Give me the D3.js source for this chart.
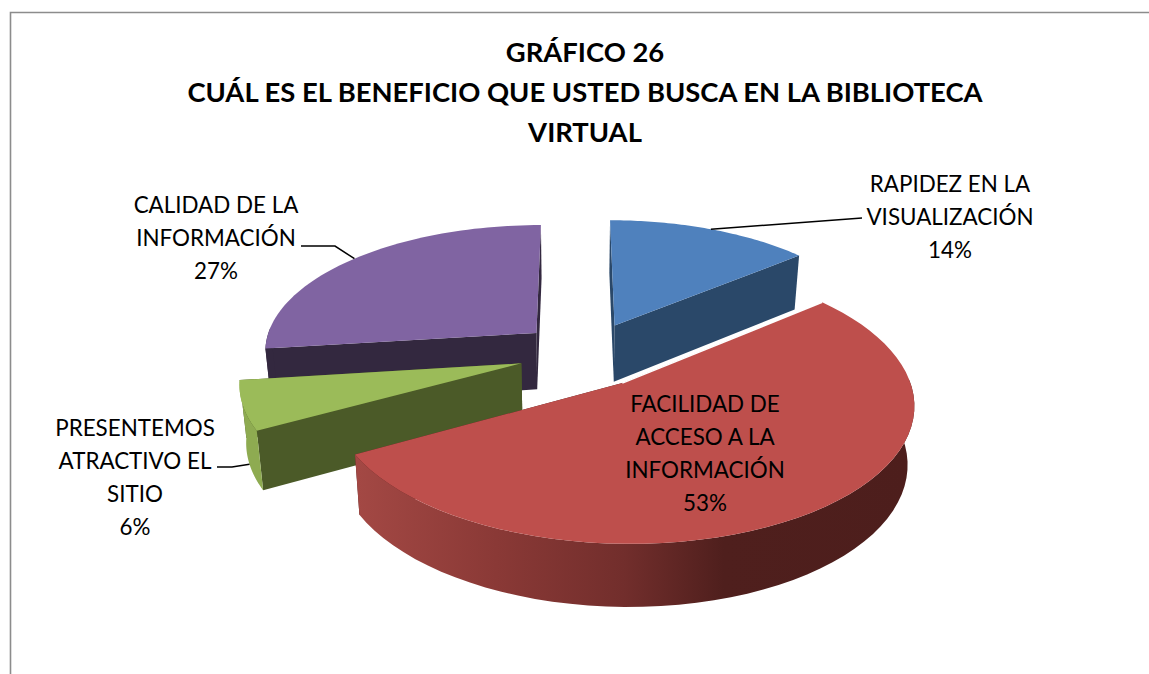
<!DOCTYPE html>
<html><head><meta charset="utf-8">
<script src="https://cdn.jsdelivr.net/npm/d3@7/dist/d3.min.js"></script>
<style>html,body{margin:0;padding:0;background:#fff}svg{display:block}text{font-family:Lato,"Open Sans",sans-serif;fill:#000}</style>
</head><body><svg id="c" width="1149" height="674"></svg>
<script>
const categories = ["RAPIDEZ EN LA VISUALIZACIÓN","FACILIDAD DE ACCESO A LA INFORMACIÓN","PRESENTEMOS ATRACTIVO EL SITIO","CALIDAD DE LA INFORMACIÓN"];
const values = [14,53,6,27];
const percentLabels = ["14%","53%","6%","27%"];
const topColors = ["#4F81BD","#BE4F4C","#9BBB59","#8064A2"];
const innerWallColors = ["#2A4869","#4E1F1D","#4B5A28","#33283F"];
const radiusFactors = [0.995,1.025,1.01,1.005];
const explodeNudges = [[0,0],[-0.015,-0.02],[0,0],[0,0]];
const titleLines = ["GRÁFICO 26","CUÁL ES EL BENEFICIO QUE USTED BUSCA EN LA BIBLIOTECA","VIRTUAL"];
const labelLines = [["RAPIDEZ EN LA","VISUALIZACIÓN","14%"],["FACILIDAD DE","ACCESO A LA","INFORMACIÓN","53%"],["PRESENTEMOS","ATRACTIVO EL","SITIO","6%"],["CALIDAD DE LA","INFORMACIÓN","27%"]];
const labelAnchors = [[950,192],[705,412],[135,436],[216,213]];
const paintOrder = [3,0,2,1];

const svg = d3.select("#c");
svg.append("path").attr("d","M10.5,674V12.5H1149").attr("fill","none").attr("stroke","#8c8c8c").attr("stroke-width",1.6);

// perspective model of a unit-radius pie
const cam={vx:575,vy:-600,F:2050,G:7170,d0:7.52,x0:0.043,explode:0.25};
const proj=(wx,wy)=>{const d=cam.d0+wy;return [cam.vx+cam.F*wx/d, cam.vy+cam.G/d];};
const drop=p=>{const dy=45.9+0.0316*p[1];return [p[0]+(cam.vx-p[0])*0.02,p[1]+dy];};

const arcs=d3.pie().sort(null).value(v=>v)(values);
arcs.forEach((a,i)=>{
  const m=(a.startAngle+a.endAngle)/2;
  a.mid=m;
  a.cx=cam.x0+cam.explode*Math.sin(m)+explodeNudges[i][0];
  a.cy=cam.explode*Math.cos(m)+explodeNudges[i][1];
  a.pt=(ang,r=radiusFactors[i])=>proj(a.cx+r*Math.sin(ang),a.cy+r*Math.cos(ang));
  a.apex=a.pt(0,0);
  a.angles=d3.range(0,61).map(k=>a.startAngle+(a.endAngle-a.startAngle)*k/60);
  a.rim=a.angles.map(t=>a.pt(t));
  a.frontRim=a.angles.filter(t=>Math.cos(t)<0.05).map(t=>a.pt(t));
});

const grad=svg.append("defs").append("linearGradient").attr("id","redWall")
  .attr("gradientUnits","userSpaceOnUse").attr("x1",358).attr("x2",912).attr("y1",0).attr("y2",0);
[[0,"#A34844"],[0.25,"#8A3936"],[0.48,"#722E2C"],[0.66,"#4F1F1D"],[1,"#4D1E1C"]].forEach(s=>grad.append("stop").attr("offset",s[0]).attr("stop-color",s[1]));
const line=d3.line();
const outerFill=i=>i===1?"url(#redWall)":i===3?innerWallColors[3]:d3.color(topColors[i]).darker(i===2?0.25:0.6).formatHex();

paintOrder.forEach(i=>{
  const a=arcs[i],g=svg.append("g");
  const s=a.rim[0],e=a.rim[a.rim.length-1];
  g.append("path").attr("d",line([a.apex,e,drop(e),drop(a.apex)])+"Z").attr("fill",innerWallColors[i]);
  g.append("path").attr("d",line([a.apex,s,drop(s),drop(a.apex)])+"Z").attr("fill",innerWallColors[i]);
  if(a.frontRim.length>1) g.append("path").attr("d",line(a.frontRim.concat(a.frontRim.map(drop).reverse()))+"Z").attr("fill",outerFill(i));
  g.append("path").attr("d",line([a.apex].concat(a.rim))+"Z").attr("fill",topColors[i]);
  if(i===1) g.append("path").attr("d",line([a.apex,s])).attr("fill","none").attr("stroke","#fff").attr("stroke-width",1.5);
});

// leader lines
const leaders=[
  [[862,218],arcs[0].pt(arcs[0].mid)],
  [[217,467],[232,467],drop(arcs[2].pt(arcs[2].mid))],
  [[301,246],[335,246],arcs[3].pt(arcs[3].mid)]
];
leaders.forEach(l=>svg.append("path").attr("d",line(l)).attr("fill","none").attr("stroke","#000").attr("stroke-width",1.5));

svg.append("g").selectAll("text").data(titleLines).join("text")
  .attr("x",585).attr("y",(d,i)=>[62,102,142][i]).attr("text-anchor","middle")
  .attr("font-size",27.4).attr("font-weight",700).text(d=>d);
labelLines.forEach((ls,i)=>{
  svg.append("g").selectAll("text").data(ls).join("text")
    .attr("x",labelAnchors[i][0]).attr("y",(d,j)=>labelAnchors[i][1]+j*33).attr("text-anchor","middle")
    .attr("font-size",22.4).text(d=>d);
});
</script></body></html>
